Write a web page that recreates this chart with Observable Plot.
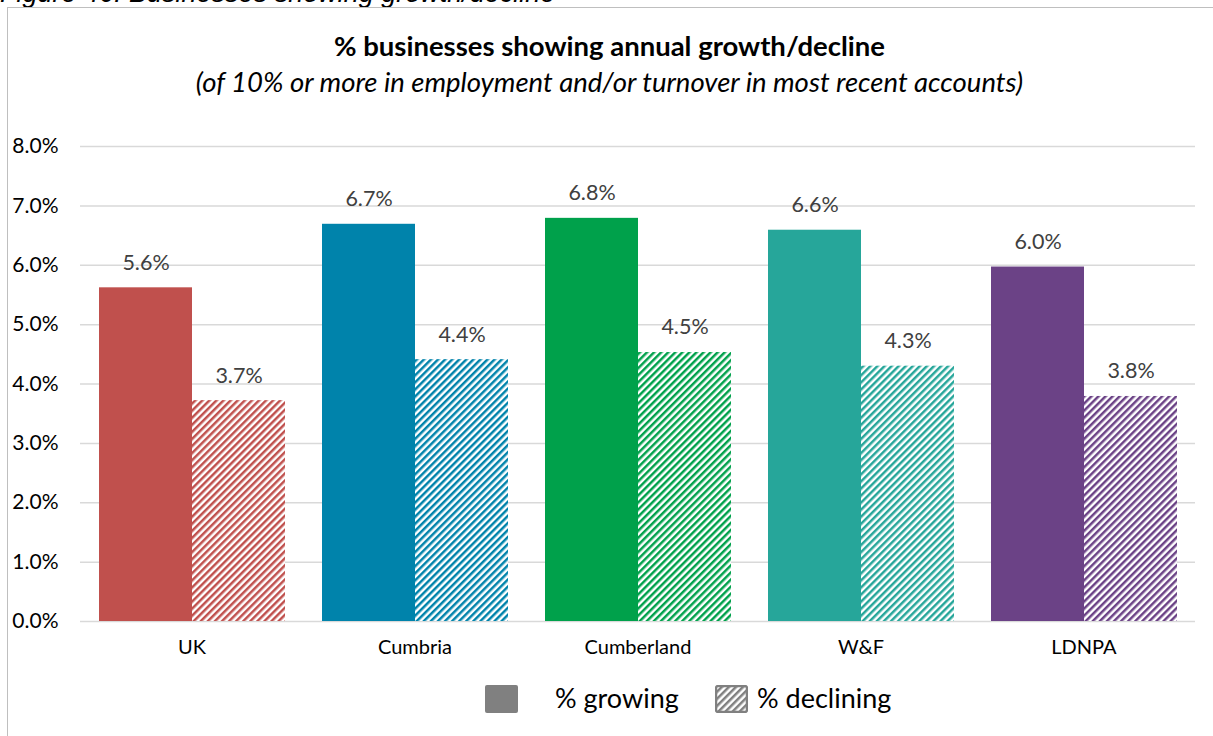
<!DOCTYPE html>
<html><head><meta charset="utf-8">
<script src="https://cdn.jsdelivr.net/npm/d3@7"></script>
<script src="https://cdn.jsdelivr.net/npm/@observablehq/plot@0.6"></script>
<style>
body{margin:0;background:#fff;width:1213px;height:736px;position:relative;overflow:hidden;font-family:Lato,"Open Sans",sans-serif;}
#caption{position:absolute;left:0;top:-22px;font-family:"Liberation Sans",Arial,sans-serif;font-style:italic;font-size:27px;line-height:30px;color:#000;white-space:nowrap;}
#box{position:absolute;left:7px;top:7px;width:1230px;height:760px;border:1.5px solid #BFBFBF;box-sizing:border-box;}
#title{position:absolute;left:0;width:1219px;text-align:center;top:29px;font-weight:bold;font-size:27.5px;line-height:33px;color:#000;white-space:nowrap;}
#subtitle{position:absolute;left:0;width:1219px;text-align:center;top:65px;font-style:italic;font-size:27.5px;line-height:33px;color:#000;white-space:nowrap;}
#chart{position:absolute;left:0;top:0;}
.lg-sw{position:absolute;top:685px;width:33px;height:28px;border-radius:2px;}
.lg-tx{position:absolute;top:682px;font-size:27px;line-height:32.4px;color:#000;white-space:nowrap;}
</style></head><body>
<div id="caption">Figure 46: Businesses showing growth/decline</div>
<div id="box"></div>
<div id="title">% businesses showing annual growth/decline</div>
<div id="subtitle">(of 10% or more in employment and/or turnover in most recent accounts)</div>
<div id="chart"></div>
<div id="legend"></div>
<svg width="0" height="0" style="position:absolute;left:0;top:0"><defs id="defs"></defs></svg>
<script>
const categories = ["UK", "Cumbria", "Cumberland", "W&F", "LDNPA"];
const growing = [5.62, 6.69, 6.79, 6.59, 5.97];
const declining = [3.72, 4.41, 4.53, 4.30, 3.79];
const colors = ["#C0504D", "#0083AB", "#00A14B", "#26A69A", "#6B4286"];
const series = ["% growing", "% declining"];
const yTicks = [0, 1, 2, 3, 4, 5, 6, 7, 8];
const legendColor = "#808080";

// hatch patterns
const defs = d3.select("#defs");
function addHatch(id, color) {
  const p = defs.append("pattern").attr("id", id).attr("patternUnits", "userSpaceOnUse")
    .attr("width", 5).attr("height", 5).attr("patternTransform", "rotate(45)");
  p.append("rect").attr("width", 5).attr("height", 5).attr("fill", "#fff");
  p.append("rect").attr("width", 2.5).attr("height", 5).attr("fill", color);
}
colors.forEach((c, i) => addHatch("hatch" + i, c));
addHatch("hatchLegend", legendColor);

const rows = categories.flatMap((c, i) => [
  {category: c, series: series[0], value: growing[i], fill: colors[i]},
  {category: c, series: series[1], value: declining[i], fill: `url(#hatch${i})`}
]);

const chart = Plot.plot({
  width: 1213, height: 670,
  marginTop: 146, marginBottom: 49, marginLeft: 80, marginRight: 18,
  style: {fontFamily: "Lato, 'Open Sans', sans-serif", background: "transparent"},
  x: {domain: series, axis: null, paddingInner: 0, paddingOuter: 0.19},
  fx: {domain: categories, padding: 0},
  y: {domain: [0, 8]},
  color: {type: "identity"},
  marks: [
    Plot.ruleY(yTicks, {stroke: "#D9D9D9", strokeWidth: 1.5}),
    Plot.barY(rows, {fx: "category", x: "series", y: "value", fill: "fill"}),
    Plot.text(rows, {fx: "category", x: "series", y: "value", text: d => d.value.toFixed(1) + "%", dy: -25, fill: "#404040", fontSize: 21.5}),
    Plot.axisY(yTicks, {tickFormat: d => d.toFixed(1) + "%", tickSize: 0, tickPadding: 22, fontSize: 21, fill: "#000", label: null}),
    Plot.axisFx({anchor: "bottom", tickSize: 0, tickPadding: 18, fontSize: 20, fill: "#000", label: null})
  ]
});
document.getElementById("chart").appendChild(chart);

// legend
const lg = document.getElementById("legend");
lg.innerHTML = `
<div class="lg-sw" style="left:485px;background:${legendColor}"></div>
<div class="lg-tx" style="left:555px">${series[0]}</div>
<svg class="lg-sw" style="left:715px" width="33" height="28"><rect x="1" y="1" width="31" height="26" rx="2" fill="url(#hatchLegend)" stroke="${legendColor}" stroke-width="2.5"/></svg>
<div class="lg-tx" style="left:757px">${series[1]}</div>`;
</script>
</body></html>
